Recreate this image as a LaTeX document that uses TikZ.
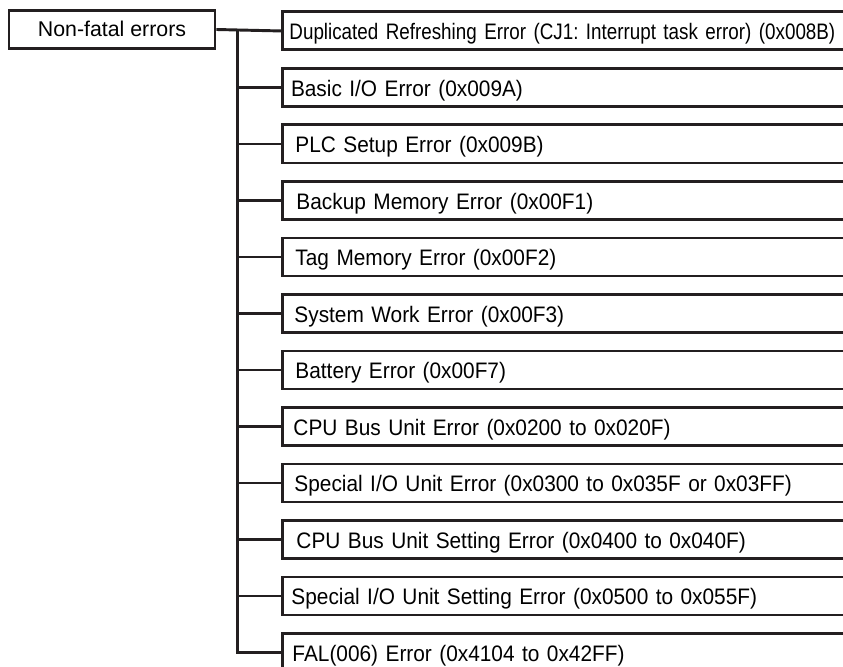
\documentclass[tikz,border=0pt]{standalone}
\usepackage{fontspec}
\setmainfont{Liberation Sans}
\newfontfamily\rowfont[FakeStretch=0.93]{Liberation Sans}
\newfontfamily\firstrowfont[FakeStretch=0.84]{Liberation Sans}
\definecolor{lc}{HTML}{231F20}
\begin{document}
\frenchspacing
\begin{tikzpicture}[x=0.75pt,y=-0.75pt,
  conn/.style={draw=lc, line width=2.2pt},
  rootbox/.style={draw=lc, line width=2.2pt, minimum width=154.5pt, minimum height=28.5pt,
    inner sep=0pt, text height=10.4pt, text depth=0pt, font=\fontsize{16}{18}\selectfont},
  errbox/.style={draw=lc, line width=2.2pt, anchor=north west, minimum height=28.5pt,
    inner ysep=0pt, inner xsep=#1pt, text width=560pt, align=left,
    text height=13.5pt, text depth=0pt, font=\rowfont\fontsize{16.8}{18}\selectfont}]
\path[use as bounding box] (0,0) rectangle (843,667);
\clip (0,0) rectangle (843,667);
\node[rootbox] (root) at (112,29.5) {Non-fatal errors};
\foreach \o/\t [count=\i] in {
  5.25/{\firstrowfont Duplicated Refreshing Error (CJ1: Interrupt task error) (0x008B)},
  6.4/{Basic I/O Error (0x009A)},
  9.75/{PLC Setup Error (0x009B)},
  10.5/{Backup Memory Error (0x00F1)},
  9.75/{Tag Memory Error (0x00F2)},
  9/{System Work Error (0x00F3)},
  9.75/{Battery Error (0x00F7)},
  8.25/{CPU Bus Unit Error (0x0200 to 0x020F)},
  9/{Special I/O Unit Error (0x0300 to 0x035F or 0x03FF)},
  10.5/{CPU Bus Unit Setting Error (0x0400 to 0x040F)},
  6.75/{Special I/O Unit Setting Error (0x0500 to 0x055F)},
  7.5/{FAL(006) Error (0x4104 to 0x42FF)}}
{
  \node[errbox=\o] (b\i) at (281,{10.5+56.5*(\i-1)}) {\t};
}
\coordinate (j) at (237.5,29.5);
\draw[conn] (root.east) -- (b1.west);
\draw[conn] (j) |- (b12.west);
\foreach \i in {2,...,11}{
  \draw[conn] (b\i.west -| j) -- (b\i.west);
}
\end{tikzpicture}
\end{document}
